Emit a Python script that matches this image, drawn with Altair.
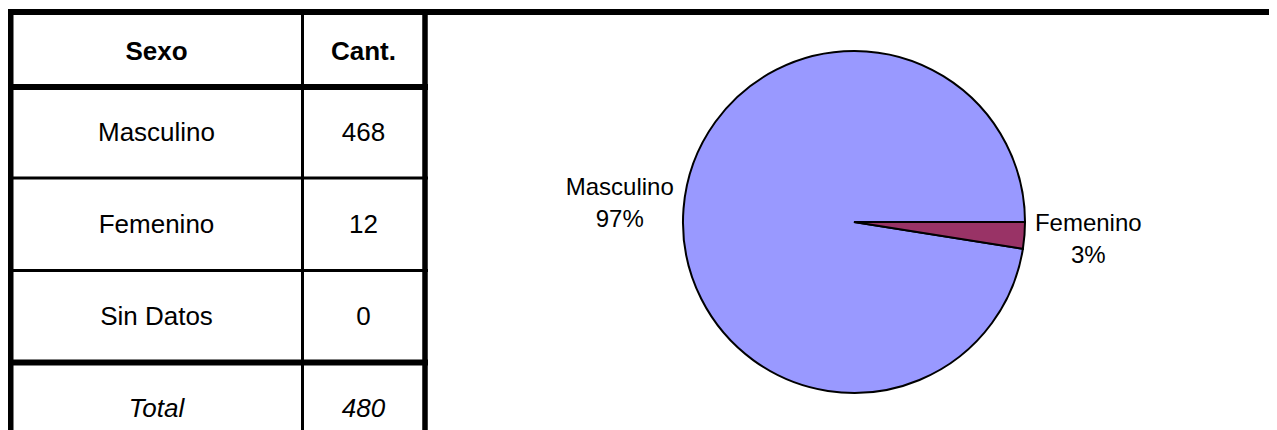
import math
import altair as alt
import pandas as pd

# ---- data ----
sexo = ["Masculino", "Femenino", "Sin Datos"]
cant = [468, 12, 0]
pct_labels = ["97%", "3%", "0%"]
header = ["Sexo", "Cant."]
total_label = "Total"
slice_colors = ["#9999FF", "#993366", "#FFFFCC"]
slice_order = [1, 0, 2]

total = sum(cant)

pie_df = pd.DataFrame({"sexo": sexo, "cant": cant, "pct": pct_labels, "ord": slice_order})

body_rows = sexo + [total_label]
body_vals = [str(v) for v in cant] + [str(total)]
table_body = pd.DataFrame(
    {"row": body_rows * 2, "col": [header[0]] * 4 + [header[1]] * 4,
     "text": body_rows + body_vals,
     "kind": ["body"] * 3 + ["total"] + ["body"] * 3 + ["total"]})
table_head = pd.DataFrame({"col": header, "text": header})

FONT = "Liberation Sans"
FS_TABLE = 26
FS_PIE = 24

xcol = alt.X("col:N", scale=alt.Scale(type="point", domain=header, range=[148.5, 355.5], padding=0), axis=None)
yrow = alt.Y("row:N", scale=alt.Scale(type="point", domain=body_rows, range=[125, 401], padding=0), axis=None)


def rule(x1, x2, y1, y2, w):
    return alt.Chart(pd.DataFrame({"k": [0]})).mark_rule(color="black", strokeWidth=w, strokeCap="butt").encode(
        x=alt.value(x1), x2=alt.value(x2), y=alt.value(y1), y2=alt.value(y2))


W, H = 1261, 422
rules = [
    rule(0, W, 4, 4, 6),          # top line
    rule(2.5, 2.5, 1, H, 6),      # left border
    rule(417, 417, 1, H, 5.5),    # right border of table
    rule(294.5, 294.5, 7, H, 3),  # column separator
    rule(0, 420, 79, 79, 6),      # header bottom
    rule(0, 420, 170, 170, 3),
    rule(0, 420, 262.5, 262.5, 3),
    rule(0, 420, 354.5, 354.5, 6),
]

head_txt = alt.Chart(table_head).mark_text(font=FONT, fontSize=FS_TABLE, fontWeight="bold", baseline="middle").encode(
    x=xcol, y=alt.value(44), text="text:N")
body_txt = alt.Chart(table_body).transform_filter("datum.kind == 'body'").mark_text(
    font=FONT, fontSize=FS_TABLE, baseline="middle").encode(x=xcol, y=yrow, text="text:N")
total_txt = alt.Chart(table_body).transform_filter("datum.kind == 'total'").mark_text(
    font=FONT, fontSize=FS_TABLE, fontStyle="italic", baseline="middle").encode(x=xcol, y=yrow, text="text:N")

theta = alt.Theta("cant:Q", stack=True,
                  scale=alt.Scale(range=[math.pi / 2, math.pi / 2 + 2 * math.pi]))
color = alt.Color("sexo:N", scale=alt.Scale(domain=sexo, range=slice_colors), legend=None)

pie_base = alt.Chart(pie_df).transform_filter("datum.cant > 0")
pie = pie_base.mark_arc(outerRadius=171, stroke="black", strokeWidth=2).encode(
    theta=theta, color=color, order=alt.Order("ord:Q"), x=alt.value(846), y=alt.value(214))
pie_lbl = pie_base.transform_calculate(label="datum.sexo + '\\n' + datum.pct").mark_text(
    radius=235, font=FONT, fontSize=FS_PIE, lineBreak="\n", lineHeight=32, dy=-16,
    align="center", baseline="middle", color="black").encode(
    theta=theta, order=alt.Order("ord:Q"), text="label:N", x=alt.value(846), y=alt.value(214))

chart = alt.layer(*rules, pie, pie_lbl, head_txt, body_txt, total_txt).properties(
    width=W, height=H, padding=0, autosize="none", background="white"
).configure_view(stroke=None)

chart.save("out.html", embed_options={"renderer": "svg", "actions": False})
